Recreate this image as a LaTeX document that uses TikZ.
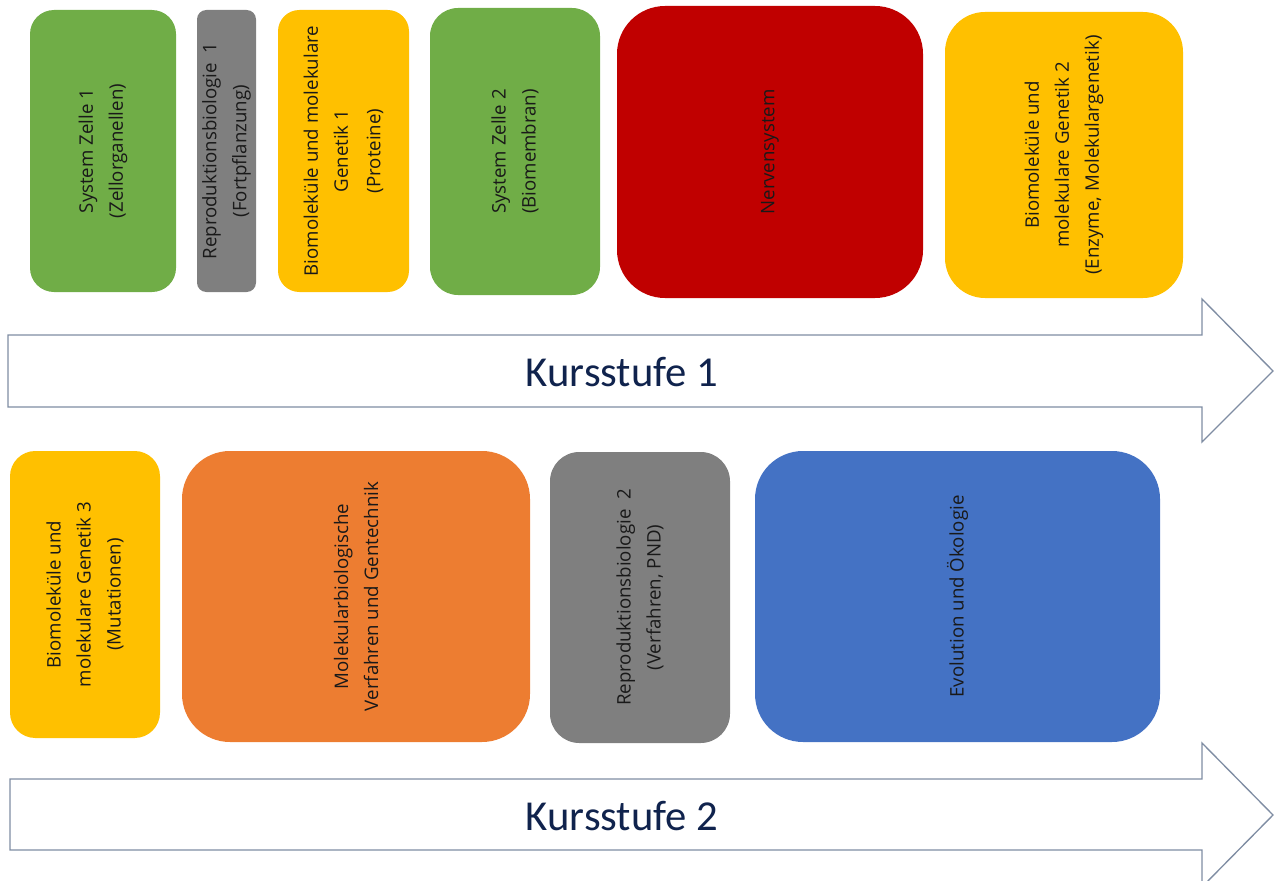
\documentclass[tikz,border=0pt]{standalone}
\usepackage{fontspec}
\setmainfont{Open Sans}
\newfontfamily\kursfont{Carlito}
\usepackage{tikz}

\definecolor{zgreen}{HTML}{70AD47}
\definecolor{zgray}{HTML}{7F7F7F}
\definecolor{zyellow}{HTML}{FFC000}
\definecolor{zred}{HTML}{C00000}
\definecolor{zorange}{HTML}{ED7D31}
\definecolor{zblue}{HTML}{4472C4}
\definecolor{arrowline}{HTML}{7F8DA3}
\definecolor{kurstext}{HTML}{10234D}

\begin{document}
\begin{tikzpicture}[x=0.75pt, y=-0.75pt,
    block/.style={rectangle, rounded corners=#1, rotate=90, inner sep=0pt, align=center,
        text=black!90, font=\fontsize{14}{22.5}\selectfont},
    stage/.style={draw=arrowline, line width=1pt, fill=white},
    stagelabel/.style={font=\kursfont\fontsize{32}{38}\selectfont, text=kurstext}]
    \useasboundingbox (0,0) rectangle (1277,881);
    % Kursstufe 1
    \node[block=18pt, fill=zgreen, minimum width=211.5pt, minimum height=109.5pt] (zelleA) at (103,151)
        {System Zelle 1\\(Zellorganellen)};
    \node[block=7pt, fill=zgray, minimum width=211.5pt, minimum height=44.25pt] (reproA) at (226.5,151)
        {Reproduktionsbiologie\ \ 1\\(Fortpflanzung)};
    \node[block=16pt, fill=zyellow, minimum width=211.5pt, minimum height=98.25pt] (bioA) at (343.5,151)
        {Biomoleküle und molekulare\\Genetik 1\\[2pt](Proteine)};
    \node[block=21pt, fill=zgreen, minimum width=215.25pt, minimum height=127.5pt] (zelleB) at (515,151.5)
        {System Zelle 2\\(Biomembran)};
    \node[block=36pt, fill=zred, minimum width=219pt, minimum height=229.5pt] (nerven) at (770,152)
        {Nervensystem};
    \node[block=30pt, fill=zyellow, minimum width=214.5pt, minimum height=178.5pt] (bioB) at (1064,155)
        {Biomoleküle und\\molekulare Genetik 2\\(Enzyme, Molekulargenetik)};
    \draw[stage] (8,335) -- (1202,335) -- (1202,299) -- (1273,371) -- (1202,442) -- (1202,407) -- (8,407) -- cycle;
    \node[stagelabel] (kurs1) at (622,372) {Kursstufe 1};
    % Kursstufe 2
    \node[block=19pt, fill=zyellow, minimum width=215.25pt, minimum height=112.5pt] (bioC) at (85,594.5)
        {Biomoleküle und\\molekulare Genetik 3\\(Mutationen)};
    \node[block=36pt, fill=zorange, minimum width=218.25pt, minimum height=261pt] (molbio) at (356,596.5)
        {Molekularbiologische\\Verfahren und Gentechnik};
    \node[block=22pt, fill=zgray, minimum width=218.25pt, minimum height=135pt] (reproB) at (640,597.5)
        {Reproduktionsbiologie\ \ 2\\(Verfahren, PND)};
    \node[block=36pt, fill=zblue, minimum width=218.25pt, minimum height=303.75pt] (evol) at (957.5,596.5)
        {Evolution und Ökologie};
    \draw[stage] (10,779) -- (1202,779) -- (1202,743) -- (1273,815) -- (1202,887) -- (1202,850) -- (10,850) -- cycle;
    \node[stagelabel] (kurs2) at (622,816) {Kursstufe 2};
\end{tikzpicture}
\end{document}
